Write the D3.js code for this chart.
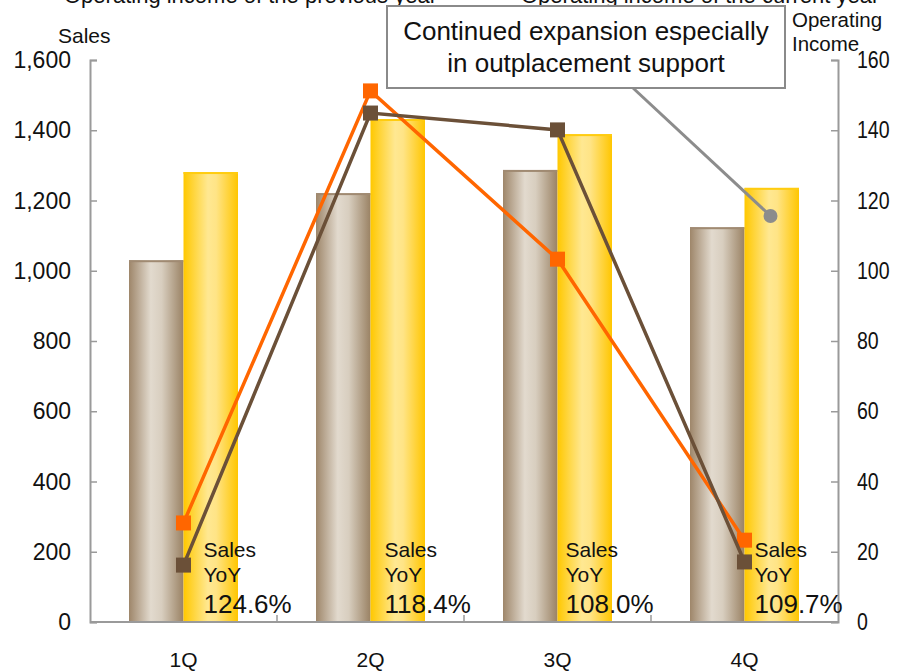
<!DOCTYPE html>
<html>
<head>
<meta charset="utf-8">
<script src="https://cdn.jsdelivr.net/npm/d3@7"></script>
<style>
  html, body { margin: 0; padding: 0; background: #fff; }
  svg { display: block; font-family: "Liberation Sans", Arial, sans-serif; }
</style>
</head>
<body>
<svg id="chart" width="897" height="672"></svg>
<script>
// Quarterly data
const quarters = ["1Q", "2Q", "3Q", "4Q"];
const salesPrev = [1030, 1221, 1287, 1124];
const salesCurr = [1281, 1432, 1389, 1236];
const opIncomePrev = [16.2, 144.9, 140.1, 17.1];
const opIncomeCurr = [28.2, 151.2, 103.3, 23.3];
const salesYoY = ["124.6%", "118.4%", "108.0%", "109.7%"];
const salesTicks = [0, 200, 400, 600, 800, 1000, 1200, 1400, 1600];
const incomeTicks = [0, 20, 40, 60, 80, 100, 120, 140, 160];
const calloutValue = 115.6; // operating income point the note refers to (4Q)

const svg = d3.select("#chart");
const plotL = 90, plotR = 838, plotT = 60, plotB = 622;

const x0 = d3.scaleBand().domain(quarters).range([plotL, plotR]);
const x1 = d3.scaleBand().domain(["prev", "curr"]).range([39, x0.bandwidth() - 39]);
const ySales = d3.scaleLinear().domain([0, 1600]).range([plotB, plotT]);
const yInc = d3.scaleLinear().domain([0, 160]).range([plotB, plotT]);

// Gradients giving bars a cylindrical look
const defs = svg.append("defs");
function grad(id, stops) {
  const g = defs.append("linearGradient").attr("id", id)
    .attr("x1", "0%").attr("x2", "100%").attr("y1", "0%").attr("y2", "0%");
  stops.forEach(([o, c]) => g.append("stop").attr("offset", o).attr("stop-color", c));
}
grad("gPrev", [["0%", "#9e866a"], ["40%", "#e2dace"], ["60%", "#d8cebf"], ["100%", "#9a8264"]]);
grad("gCurr", [["0%", "#ffc800"], ["45%", "#ffe892"], ["60%", "#ffe486"], ["100%", "#ffc600"]]);

// Top legend captions (partially above the frame)
svg.append("text").attr("x", 64).attr("y", 3).attr("font-size", 22).attr("fill", "#111")
  .text("Operating income of the previous  year");
svg.append("text").attr("x", 521).attr("y", 3).attr("font-size", 22).attr("fill", "#111")
  .text("Operating income of the current year");

// Bars
const groups = svg.append("g").selectAll("g").data(quarters).join("g")
  .attr("transform", d => `translate(${x0(d)},0)`);
groups.append("rect")
  .attr("x", x1("prev")).attr("width", x1.bandwidth())
  .attr("y", (d, i) => ySales(salesPrev[i]))
  .attr("height", (d, i) => plotB - ySales(salesPrev[i]))
  .attr("fill", "url(#gPrev)");
groups.append("rect")
  .attr("x", x1("prev")).attr("width", x1.bandwidth())
  .attr("y", (d, i) => ySales(salesPrev[i])).attr("height", 2)
  .attr("fill", "#a08a72");
groups.append("rect")
  .attr("x", x1("curr")).attr("width", x1.bandwidth())
  .attr("y", (d, i) => ySales(salesCurr[i]))
  .attr("height", (d, i) => plotB - ySales(salesCurr[i]))
  .attr("fill", "url(#gCurr)");
groups.append("rect")
  .attr("x", x1("curr")).attr("width", x1.bandwidth())
  .attr("y", (d, i) => ySales(salesCurr[i])).attr("height", 2)
  .attr("fill", "#ffcc10");

// Axes
const axisColor = "#9a9a9a";
const yl = svg.append("g").attr("transform", `translate(${plotL},0)`)
  .call(d3.axisRight(ySales).tickValues(salesTicks).tickSize(7).tickFormat(""));
const yr = svg.append("g").attr("transform", `translate(${plotR},0)`)
  .call(d3.axisLeft(yInc).tickValues(incomeTicks).tickSize(7).tickFormat(""));
const xb = svg.append("g").attr("transform", `translate(0,${plotB})`)
  .call(d3.axisTop(x0).tickSize(0).tickFormat(""));
[yl, yr, xb].forEach(g => {
  g.select(".domain").attr("stroke", axisColor).attr("stroke-width", 2);
  g.selectAll(".tick line").attr("stroke", axisColor).attr("stroke-width", 1.5);
});
xb.select(".domain").attr("d", `M${plotL},0H${plotR}`);
// Category separators
svg.append("g").selectAll("line").data(quarters.slice(1)).join("line")
  .attr("x1", d => x0(d)).attr("x2", d => x0(d))
  .attr("y1", plotB).attr("y2", plotB - 7)
  .attr("stroke", axisColor).attr("stroke-width", 1.5);

// Tick labels
svg.append("g").selectAll("text").data(salesTicks).join("text")
  .attr("x", 71).attr("y", d => ySales(d) + 8).attr("text-anchor", "end")
  .attr("font-size", 23).attr("fill", "#111").text(d => d3.format(",")(d));
svg.append("g").selectAll("text").data(incomeTicks).join("text")
  .attr("transform", d => `translate(857,${yInc(d) + 8}) scale(0.85,1)`)
  .attr("font-size", 23).attr("fill", "#111").text(d => d);
svg.append("g").selectAll("text").data(quarters).join("text")
  .attr("x", d => x0(d) + x0.bandwidth() / 2).attr("y", 667).attr("text-anchor", "middle")
  .attr("font-size", 21).attr("fill", "#111").text(d => d);

// Axis titles
svg.append("text").attr("x", 58).attr("y", 43).attr("font-size", 21).attr("fill", "#111").text("Sales");
svg.append("text").attr("x", 792).attr("y", 27).attr("font-size", 20.5).attr("fill", "#111").text("Operating");
svg.append("text").attr("x", 792).attr("y", 51).attr("font-size", 20.5).attr("fill", "#111").text("Income");

// Callout
const cx = x0("4Q") + x0.bandwidth() / 2 + 26;
svg.append("line").attr("x1", 633).attr("y1", 88).attr("x2", cx).attr("y2", yInc(calloutValue))
  .attr("stroke", "#8c8c8c").attr("stroke-width", 3);
svg.append("circle").attr("cx", cx).attr("cy", yInc(calloutValue)).attr("r", 7).attr("fill", "#8c8c8c");
svg.append("rect").attr("x", 387).attr("y", 6).attr("width", 398).attr("height", 82)
  .attr("fill", "#fff").attr("stroke", "#8a8a8a").attr("stroke-width", 2);
svg.append("text").attr("x", 586).attr("y", 40).attr("text-anchor", "middle")
  .attr("font-size", 26).attr("fill", "#111").text("Continued expansion especially");
svg.append("text").attr("x", 586).attr("y", 72).attr("text-anchor", "middle")
  .attr("font-size", 26).attr("fill", "#111").text("in outplacement support");

// Operating income lines
const cxq = d => x0(d) + x0.bandwidth() / 2;
function series(values, color) {
  const line = d3.line().x((v, i) => cxq(quarters[i])).y(v => yInc(v));
  svg.append("path").datum(values).attr("d", line)
    .attr("fill", "none").attr("stroke", color).attr("stroke-width", 3.5);
  svg.append("g").selectAll("rect").data(values).join("rect")
    .attr("x", (v, i) => cxq(quarters[i]) - 7.5).attr("y", v => yInc(v) - 7.5)
    .attr("width", 15).attr("height", 15).attr("fill", color);
}
series(opIncomeCurr, "#ff6600");
series(opIncomePrev, "#6b5038");

// YoY labels
const yoyDx = [20, 14, 8, 10];
const yoy = svg.append("g").selectAll("g").data(quarters).join("g")
  .attr("transform", (d, i) => `translate(${cxq(d) + yoyDx[i]},0)`);
yoy.append("text").attr("y", 557).attr("font-size", 21).attr("fill", "#111").text("Sales");
yoy.append("text").attr("y", 582).attr("font-size", 21).attr("fill", "#111").text("YoY");
yoy.append("text").attr("y", 613).attr("font-size", 26).attr("fill", "#111").text((d, i) => salesYoY[i]);
</script>
</body>
</html>
